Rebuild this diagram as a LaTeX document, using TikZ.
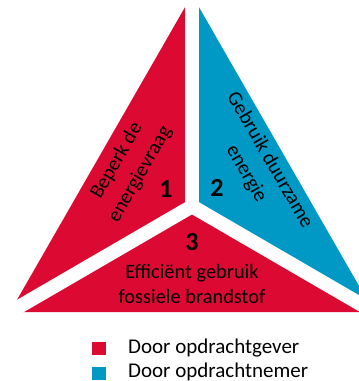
\documentclass[tikz,border=0pt]{standalone}
\usepackage{fontspec}
\setmainfont{Carlito}
\definecolor{opdrachtgever}{RGB}{220,10,50}
\definecolor{opdrachtnemer}{RGB}{0,152,196}
\tikzset{
	part text/.style={font=\fontsize{20.4}{24.5}\selectfont, align=center, inner sep=0pt},
	side text/.style={part text, font=\fontsize{20.4}{27}\selectfont},
	part number/.style={font=\fontsize{26}{26}\selectfont\bfseries, inner sep=0pt},
	legend text/.style={font=\fontsize{21}{24}\selectfont, inner sep=0pt, anchor=base west},
	gap/.style={white, line width=14pt, shorten >=-6pt}
}
\begin{document}
\begin{tikzpicture}[x=1pt, y=-1pt]
	\useasboundingbox (0, 0) rectangle (359, 381);
	\clip (0, 0) rectangle (359, 381);
	\coordinate (top) at (192, -5);
	\coordinate (left) at (10, 312);
	\coordinate (right) at (374, 312);
	\coordinate (centre) at (192, 206.3);
	\fill [opdrachtgever] (top) -- (centre) -- (left) -- cycle;
	\fill [opdrachtnemer] (top) -- (centre) -- (right) -- cycle;
	\fill [opdrachtgever] (left) -- (centre) -- (right) -- cycle;
	\draw [gap] (centre) -- (top);
	\draw [gap] (centre) -- (left);
	\draw [gap] (centre) -- (right);
	\node (beperk) at (128.5, 167.5) [side text, rotate=60] {Beperk de\\energievraag};
	\node (duurzaam) at (258, 167) [side text, rotate=-60] {Gebruik duurzame\\energie};
	\node (fossiel) at (192, 284) [part text] {Efficiënt gebruik\\fossiele brandstof};
	\node (een) at (166, 189) [part number] {1};
	\node (twee) at (217, 188) [part number] {2};
	\node (drie) at (192, 242) [part number] {3};
	\fill [opdrachtgever] (92, 342) rectangle (106, 355);
	\fill [opdrachtnemer] (92, 367) rectangle (106, 380);
	\node (gever) at (128, 353) [legend text] {Door opdrachtgever};
	\node (nemer) at (128, 377) [legend text] {Door opdrachtnemer};
\end{tikzpicture}
\end{document}
